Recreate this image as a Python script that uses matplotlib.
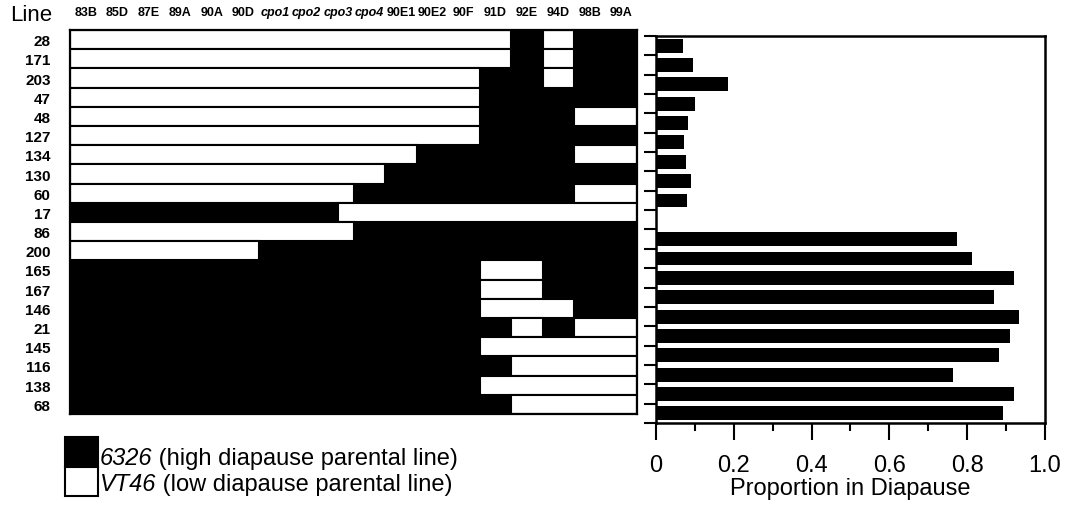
import numpy as np
import matplotlib
matplotlib.use("Agg")
import matplotlib.pyplot as plt
from matplotlib.patches import Rectangle

plt.rcParams['font.family'] = ['Liberation Sans', 'DejaVu Sans']

# marker loci along the top of the genotype map
markers = ['83B', '85D', '87E', '89A', '90A', '90D', 'cpo1', 'cpo2', 'cpo3', 'cpo4',
           '90E1', '90E2', '90F', '91D', '92E', '94D', '98B', '99A']
italic_markers = ['cpo1', 'cpo2', 'cpo3', 'cpo4']

lines = ['28', '171', '203', '47', '48', '127', '134', '130', '60', '17',
         '86', '200', '165', '167', '146', '21', '145', '116', '138', '68']

# VT46 (white) segments per line, in marker units; the rest is 6326 (black)
vt46_segments = [
    [(0, 14), (15, 16)],
    [(0, 14), (15, 16)],
    [(0, 13), (15, 16)],
    [(0, 13)],
    [(0, 13), (16, 18)],
    [(0, 13)],
    [(0, 11), (16, 18)],
    [(0, 10)],
    [(0, 9), (16, 18)],
    [(8.5, 18)],
    [(0, 9)],
    [(0, 6)],
    [(13, 15)],
    [(13, 15)],
    [(13, 16)],
    [(14, 15), (16, 18)],
    [(13, 18)],
    [(14, 18)],
    [(13, 18)],
    [(14, 18)],
]

# proportion in diapause (line 17 has no bar)
diapause = [0.07, 0.095, 0.185, 0.10, 0.082, 0.072, 0.076, 0.09, 0.08, np.nan,
            0.774, 0.812, 0.92, 0.868, 0.933, 0.911, 0.882, 0.764, 0.92, 0.892]

legend_italic = ['6326', 'VT46']
legend_rest = [' (high diapause parental line)', ' (low diapause parental line)']

W, H = 1068, 506
fig = plt.figure(figsize=(W / 100, H / 100), dpi=100)

# ---- genotype map ----
ax = fig.add_axes([70 / W, 1 - 415 / H, 567 / W, 384 / H])
n = len(lines)
nm = len(markers)
ypos = np.arange(n) + 0.5
ax.barh(ypos, [nm] * n, left=0, height=1.0, color='black', linewidth=0)
for i, segs in enumerate(vt46_segments):
    for a, b in segs:
        ax.barh(ypos[i], b - a, left=a, height=1.0, color='white',
                edgecolor='black', linewidth=1.5)
ax.set_xlim(0, nm)
ax.set_ylim(n, 0)
ax.set_xticks([])
ax.set_yticks(ypos)
ax.set_yticklabels(lines, fontsize=11, fontweight='bold')
ax.tick_params(axis='y', length=0, pad=14)
for s in ax.spines.values():
    s.set_linewidth(1.6)

for j, m in enumerate(markers):
    ax.text(j + 0.5, -0.8, m, ha='center', va='baseline', fontsize=9,
            fontweight='bold',
            fontstyle='italic' if m in italic_markers else 'normal')
ax.text(-0.55, -0.5, 'Line', ha='right', va='baseline', fontsize=16)

# ---- proportion in diapause ----
ax2 = fig.add_axes([656 / W, 1 - 424 / H, 389 / W, 387 / H])
ax2.barh(np.arange(n), diapause, height=0.72, color='black')
ax2.set_xlim(0, 1.0)
ax2.set_ylim(n - 0.5, -0.5)
ax2.set_yticks(np.arange(n + 1) - 0.5)
ax2.set_yticklabels([])
ax2.set_xticks([0, 0.2, 0.4, 0.6, 0.8, 1.0])
ax2.set_xticklabels(['0', '0.2', '0.4', '0.6', '0.8', '1.0'], fontsize=17)
ax2.set_xticks(np.arange(0.1, 1.0, 0.2), minor=True)
ax2.tick_params(axis='x', which='major', direction='out', length=12, width=1.5, pad=10)
ax2.tick_params(axis='x', which='minor', direction='out', length=6, width=1.5)
ax2.tick_params(axis='y', direction='out', length=9, width=1.5)
ax2.set_xlabel('Proportion in Diapause', fontsize=17, labelpad=1)
for s in ax2.spines.values():
    s.set_linewidth(1.8)

# ---- legend ----
fig.add_artist(Rectangle((65 / W, 1 - 468 / H), 33 / W, 30 / H, transform=fig.transFigure,
                         facecolor='black', edgecolor='black', linewidth=1.5))
fig.add_artist(Rectangle((65 / W, 1 - 497 / H), 33 / W, 29 / H, transform=fig.transFigure,
                         facecolor='white', edgecolor='black', linewidth=1.5))
for k, ybottom in enumerate([470, 496]):
    t = fig.text(100 / W, 1 - ybottom / H, legend_italic[k], fontsize=17,
                 fontstyle='italic', va='bottom', ha='left')
    fig.add_artist(plt.Annotation(legend_rest[k], xy=(1, 0), xycoords=t,
                                  fontsize=17, va='bottom', ha='left'))

fig.savefig('out.png', dpi=100)
